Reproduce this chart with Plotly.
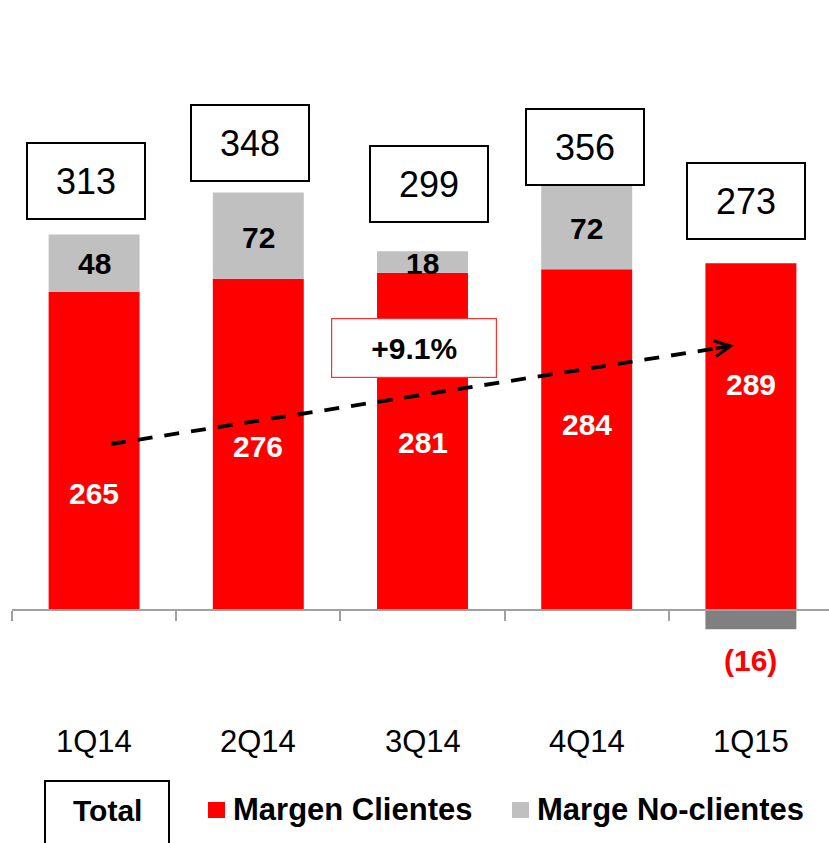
import plotly.graph_objects as go

# ---------------- data ----------------
categories = ["1Q14", "2Q14", "3Q14", "4Q14", "1Q15"]
margen_clientes = [265, 276, 281, 284, 289]
margen_no_clientes = [48, 72, 18, 72, -16]
totals = [c + n for c, n in zip(margen_clientes, margen_no_clientes)]
growth_pct = (margen_clientes[-1] / margen_clientes[0] - 1) * 100

# ---------------- layout helpers (label placement, not data) ----------------
W, H = 829, 843
L = 12
PX_PER_UNIT = 1.2
BASE_PX = 610
CAT_PX = 164.2

def y_of(py):
    return (BASE_PX - py) / PX_PER_UNIT

def x_of(px):
    return (px - L) / CAT_PX - 0.5

def xp(px):
    return (px - L) / (W - L)

def yp(py):
    return (H - py) / H

red_label_py = [493, 446, 442, 424, 384]
gray_label_py = [263, 237, 263, 228]
box_center_px = [(85.5, 180.5), (250, 142.5), (428.5, 184), (584.5, 146.5), (746, 200.5)]

RED = "#FF0000"
GRAY = "#C0C0C0"
DGRAY = "#808080"
FONT = "Arial, Liberation Sans, sans-serif"

fig = go.Figure()
fig.add_trace(go.Bar(x=categories, y=margen_clientes, name="Margen Clientes",
                     marker=dict(color=RED, line=dict(width=0)), showlegend=False))
fig.add_trace(go.Bar(x=categories, y=margen_no_clientes, name="Marge No-clientes",
                     marker=dict(color=[GRAY if v >= 0 else DGRAY for v in margen_no_clientes],
                                 line=dict(width=0)), showlegend=False))

ann = []
# red segment labels
for i, v in enumerate(margen_clientes):
    ann.append(dict(x=categories[i], y=y_of(red_label_py[i]), xref="x", yref="y",
                    text=f"<b>{v}</b>", showarrow=False,
                    font=dict(family=FONT, size=30, color="white")))
# non-client labels
for i, v in enumerate(margen_no_clientes):
    if v >= 0:
        ann.append(dict(x=categories[i], y=y_of(gray_label_py[i]), xref="x", yref="y",
                        text=f"<b>{v}</b>", showarrow=False,
                        font=dict(family=FONT, size=30, color="black")))
    else:
        ann.append(dict(x=categories[i], y=y_of(660), xref="x", yref="y",
                        text=f"<b>({abs(v)})</b>", showarrow=False,
                        font=dict(family=FONT, size=30, color=RED)))
# total boxes
for i, t in enumerate(totals):
    cx, cy = box_center_px[i]
    ann.append(dict(x=x_of(cx), y=y_of(cy), xref="x", yref="y",
                    text=f"{t}", showarrow=False, width=116, height=74,
                    bordercolor="black", borderwidth=2, borderpad=0, bgcolor="white",
                    font=dict(family=FONT, size=36, color="black")))
# category labels
for c in categories:
    ann.append(dict(x=c, y=y_of(741), xref="x", yref="y", text=c, showarrow=False,
                    font=dict(family=FONT, size=31, color="black")))
# growth box
ann.append(dict(x=x_of(414), y=y_of(348), xref="x", yref="y",
                text=f"<b>+{growth_pct:.1f}%</b>", showarrow=False, width=164, height=58,
                bordercolor="#FF3030", borderwidth=1.2, borderpad=0, bgcolor="white",
                font=dict(family=FONT, size=30, color="black")))
# arrow head
ann.append(dict(x=x_of(734), y=y_of(345.5), xref="x", yref="y", ax=-20, ay=3.2,
                axref="pixel", ayref="pixel", text="", showarrow=True,
                arrowhead=5, arrowsize=0.9, arrowwidth=3.5, arrowcolor="black", standoff=0))
# legend texts
ann.append(dict(x=xp(107), y=yp(810), xref="paper", yref="paper", text="<b>Total</b>",
                xanchor="center", yanchor="middle",
                showarrow=False, font=dict(family=FONT, size=30, color="black")))
ann.append(dict(x=xp(231), y=yp(809), xref="paper", yref="paper", xanchor="left",
                yanchor="middle",
                text="<b>Margen Clientes</b>", showarrow=False,
                font=dict(family=FONT, size=31, color="black")))
ann.append(dict(x=xp(535), y=yp(809), xref="paper", yref="paper", xanchor="left",
                yanchor="middle",
                text="<b>Marge No-clientes</b>", showarrow=False,
                font=dict(family=FONT, size=31, color="black")))

shapes = [
    # dashed trend line
    dict(type="line", xref="x", yref="y", x0=x_of(111), y0=y_of(444), x1=x_of(728), y1=y_of(346.5),
         line=dict(color="black", width=3.8, dash="15px,12px")),
    # legend: Total box
    dict(type="rect", xref="paper", yref="paper", x0=xp(45), x1=xp(169), y0=yp(860), y1=yp(781),
         line=dict(color="black", width=2), fillcolor="rgba(0,0,0,0)", layer="above"),
    # legend squares
    dict(type="rect", xref="paper", yref="paper", x0=xp(208), x1=xp(225), y0=yp(818), y1=yp(802),
         line=dict(width=0), fillcolor=RED),
    dict(type="rect", xref="paper", yref="paper", x0=xp(512), x1=xp(529), y0=yp(818), y1=yp(802),
         line=dict(width=0), fillcolor=GRAY),
]

fig.update_layout(
    width=W, height=H,
    margin=dict(l=L, r=0, t=0, b=0),
    paper_bgcolor="white", plot_bgcolor="white",
    barmode="relative", bargap=0.446,
    annotations=ann, shapes=shapes,
    xaxis=dict(type="category", categoryorder="array", categoryarray=categories,
               range=[-0.5, (W - L) / CAT_PX - 0.5], autorange=False,
               anchor="free", position=(H - BASE_PX) / H,
               showline=True, linecolor="#A0A0A0", linewidth=1.5,
               ticks="outside", tickson="boundaries", ticklen=10, tickcolor="#A0A0A0",
               tickwidth=1.5, showticklabels=False, showgrid=False, zeroline=False),
    yaxis=dict(range=[y_of(H), y_of(0)], autorange=False, visible=False,
               showgrid=False, zeroline=False),
    showlegend=False,
)

fig.write_html("out.html", config={"displayModeBar": False},
               post_script="document.body.style.margin='0';document.body.style.overflow='hidden';")
